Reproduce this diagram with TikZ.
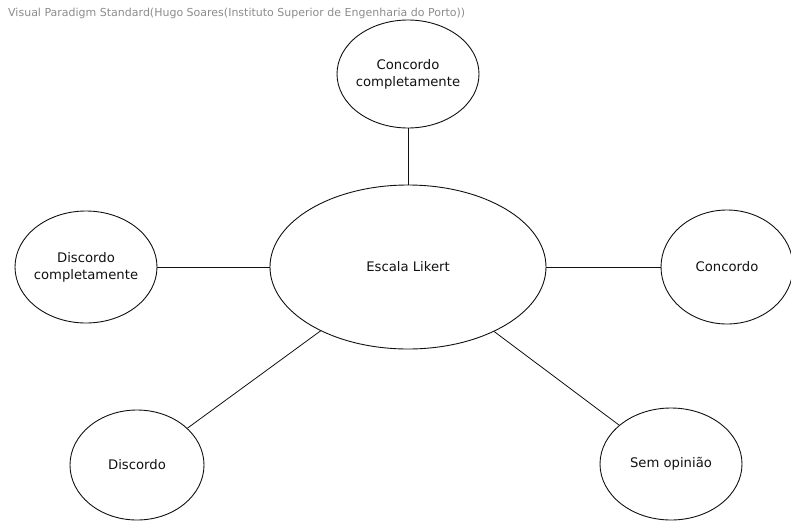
\documentclass[tikz,border=0pt]{standalone}
\usepackage{fontspec}
\setmainfont{DejaVu Sans}
\usepackage{xcolor}
\usepackage{tikz}
\usetikzlibrary{shapes.geometric}
\definecolor{ink}{HTML}{111111}
\definecolor{stamp}{HTML}{8C8C8C}

\begin{document}
\begin{tikzpicture}[x=1pt,y=-1pt,
    opt/.style={draw=ink, ellipse, line width=0.9pt, inner sep=-10pt, text=ink, align=center, font=\fontsize{13.2}{17}\selectfont},
    link/.style={draw=ink, line width=0.8pt}]
  \useasboundingbox (0,0) rectangle (791,522);
  \node[anchor=west, text=stamp, font=\fontsize{11}{13}\selectfont, inner sep=0pt] (stamp) at (8,13) {Visual Paradigm Standard(Hugo Soares(Instituto Superior de Engenharia do Porto))};
  \node[opt, minimum width=276pt, minimum height=164pt] (likert) at (408,267) {Escala Likert};
  \node[opt, minimum width=142pt, minimum height=108pt] (cc) at (408,74) {Concordo\\completamente};
  \node[opt, minimum width=142pt, minimum height=112pt] (dc) at (86,267) {Discordo\\completamente};
  \node[opt, minimum width=132pt, minimum height=114pt] (c) at (727,267) {Concordo};
  \node[opt, minimum width=134pt, minimum height=110pt] (d) at (137,465) {Discordo};
  \node[opt, minimum width=142pt, minimum height=112pt] (so) at (671,464) {Sem opinião};
  \draw[link] (cc) -- (likert);
  \draw[link] (dc) -- (likert);
  \draw[link] (c) -- (likert);
  \draw[link] (d) -- (likert);
  \draw[link] (so) -- (likert);
\end{tikzpicture}
\end{document}
